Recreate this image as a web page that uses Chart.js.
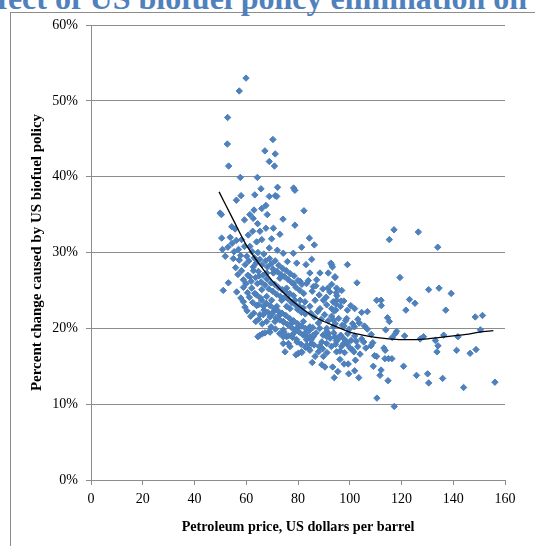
<!DOCTYPE html>
<html>
<head>
<meta charset="utf-8">
<script src="https://cdn.jsdelivr.net/npm/chart.js@4.4.0/dist/chart.umd.min.js"></script>
<style>
  html, body { margin: 0; padding: 0; background: #fff; overflow: hidden; }
  #wrap { position: relative; width: 535px; height: 546px; overflow: hidden; }
  #moldura { position: absolute; left: 10px; top: 12px; width: 560px; height: 560px; border: 1px solid #8c8c8c; box-sizing: border-box; }
  #titulo { position: absolute; right: 8px; top: -18px; font: bold 32px "Liberation Serif", "Times New Roman", serif; color: #4F81BD; white-space: nowrap; line-height: 32px; }
  #grafico { position: absolute; left: 0; top: 0; }
</style>
</head>
<body>
<div id="wrap">
  <div id="moldura"></div>
  <div id="titulo">Effect of US biofuel policy elimination on</div>
  <canvas id="grafico" width="535" height="546"></canvas>
</div>
<script>
// pontos [preço do petróleo, % de mudança]
const pontosAltos = [
  [59.9,53.0],[57.3,51.3],[52.8,47.8],[52.7,44.3],[53.2,41.4],[70.3,44.9],[67.2,43.4],[71.2,43.0],
  [68.9,42.0],[70.9,41.4],[57.7,39.9],[64.3,39.9],[65.7,38.4],[72.1,38.6],[78.3,38.5],[78.8,38.2],
  [58.0,37.5],[56.2,36.9],[63.3,37.6],[68.9,37.4],[71.2,37.5],[71.8,37.4],[74.2,34.4],[62.7,34.5],
  [66.0,35.8],[67.6,36.2],[68.1,35.0],[63.0,35.6],[61.4,35.0],[59.3,34.3],[64.4,33.8],[49.9,35.2],
  [50.4,35.0],[54.4,33.4],[55.7,33.1],[82.3,35.5],[78.8,33.6]
];

const pontosNucleo = [
  [67.6,33.2],[70.5,33.2],[73.0,32.4],[69.8,31.8],[62.5,32.8],[65.3,32.8],[60.8,32.3],[66.0,31.7],
  [64.0,31.4],[58.2,31.7],[59.3,30.8],[61.4,30.8],[50.5,31.9],[50.8,30.4],[68.9,30.6],[72.0,30.3],
  [74.3,29.9],[75.9,28.8],[78.2,29.9],[79.5,28.6],[81.4,30.7],[84.4,31.9],[86.3,31.0],[83.1,28.4],
  [85.3,29.1],[93.0,28.4],[91.7,27.3],[88.5,27.3],[84.6,27.3],[87.2,26.4],[94.3,26.8],[94.9,25.3],
  [94.9,23.7],[94.6,22.4],[93.7,21.1],[91.5,25.3],[89.8,23.7],[85.9,25.5],[83.3,25.9],[80.8,26.2],
  [78.2,25.9],[75.6,25.3],[73.0,26.6],[70.5,27.3],[67.9,27.3],[64.7,27.5],[62.7,28.1],[61.4,26.8],
  [57.3,29.0],[58.2,27.6],[53.1,26.0],[51.1,25.0],[56.3,24.8],[58.9,25.4],[62.1,25.3],[64.0,24.4],
  [66.0,25.1],[67.9,24.2],[66.0,23.7],[64.7,23.1],[66.6,22.9],[69.8,23.7],[71.8,22.9],[73.7,23.7],
  [75.6,22.9],[73.0,21.8],[76.9,22.6],[78.8,23.7],[80.8,23.7],[82.7,23.5],[84.6,22.9],[86.6,23.7],
  [88.5,22.6],[91.1,23.1],[93.0,22.6],[58.9,23.5],[59.5,22.8],[65.3,21.8],[66.6,21.8],[69.2,21.5],
  [70.5,22.2],[74.3,19.8],[75.6,18.9],[74.3,18.0],[76.9,17.6],[79.5,18.5],[83.3,18.5],[82.7,19.3],
  [78.2,19.3],[80.1,16.7],[81.4,16.9],[84.0,17.4],[85.9,18.9],[88.5,17.6],[91.1,18.0],[91.7,19.3],
  [94.3,18.9],[94.9,16.9],[89.8,16.3],[86.6,16.3],[85.3,18.0],[65.3,19.1],[66.3,19.3],[68.9,19.6],
  [71.1,20.9],[74.3,20.9],[77.6,20.7],[80.1,20.2],[82.1,20.9],[84.6,20.2],[87.9,20.7],[91.1,20.0],
  [93.7,20.2],[64.5,18.9],[67.2,19.4],[69.2,19.5]
];

const pontosDensos = [
  [60.2,29.5],[61.0,28.9],[62.3,30.1],[63.1,29.3],[63.8,28.6],[64.5,30.0],[65.2,29.1],[66.1,28.4],
  [66.8,29.8],[67.5,28.9],[68.2,28.1],[69.0,29.2],[69.7,28.5],[70.4,27.8],[71.2,28.9],[71.9,27.5],
  [72.6,28.3],[73.4,27.1],[74.1,27.9],[74.8,26.8],[75.5,27.6],[76.3,26.4],[77.0,27.2],[77.7,26.0],
  [78.5,26.9],[79.2,25.4],[80.0,26.3],[80.7,25.0],[81.5,25.8],[82.2,24.6],[60.6,27.0],[61.9,26.2],
  [62.8,27.6],[63.6,26.7],[64.3,25.9],[65.0,26.9],[65.8,26.1],[66.5,27.0],[67.2,25.7],[68.0,26.5],
  [68.7,25.2],[69.5,26.0],[70.2,24.9],[71.0,25.8],[71.7,24.5],[72.4,25.4],[73.2,24.2],[73.9,25.1],
  [74.6,24.0],[75.3,24.8],[76.1,23.9],[76.8,24.6],[77.5,23.4],[78.3,24.3],[79.0,23.1],[79.8,22.5],
  [80.5,22.9],[81.3,22.1],[82.0,22.7],[82.8,21.9],[61.2,24.1],[62.5,23.4],[63.3,24.6],[64.0,23.0],
  [65.5,24.0],[66.9,22.4],[67.7,23.3],[68.4,22.1],[69.2,23.0],[70.0,21.9],[70.8,22.6],[71.5,21.4],
  [72.3,22.3],[73.0,21.1],[73.8,22.0],[74.5,20.8],[75.3,21.7],[76.0,20.5],[76.8,21.3],[77.5,20.1],
  [78.3,21.0],[79.0,19.8],[79.8,20.6],[80.5,19.5],[81.3,20.3],[82.0,19.1],[82.8,20.0],[83.6,18.8],
  [84.3,19.7],[85.1,18.5],[64.8,21.2],[66.2,20.6],[67.9,20.9],[69.6,20.2],[71.3,19.9],[72.9,19.3],
  [74.6,19.5],[76.3,19.0],[77.9,18.8],[79.6,18.2],[81.2,17.9],[82.9,17.5],[84.6,17.1],[86.2,17.8],
  [87.9,16.9],[89.5,17.3],[91.2,16.8],[92.9,17.6],[94.5,17.9],[96.2,17.0],[84.0,26.3],[85.5,24.9],
  [86.9,25.6],[88.2,24.4],[89.6,25.2],[90.9,24.1],[92.3,24.8],[93.6,23.5],[95.0,24.3],[96.4,22.9],
  [97.7,23.6],[99.1,22.4],[100.4,23.0],[84.9,22.0],[86.3,21.5],[87.6,22.2],[89.0,21.2],[90.3,21.8],
  [91.7,21.0],[93.0,21.6],[94.4,20.6],[95.7,21.3],[97.1,20.4],[98.4,21.0],[99.8,19.9],[101.1,20.6],
  [85.7,20.1],[87.0,19.4],[88.4,20.0],[89.7,19.1],[91.1,19.6],[92.4,18.7],[93.8,19.4],[95.1,18.4],
  [96.5,19.1],[97.8,18.6],[99.2,19.3],[100.5,18.4],[101.9,19.0],[96.8,17.6],[98.0,16.8],[99.0,17.9],
  [100.9,17.2],[102.5,18.3],[54.5,31.2],[55.3,30.1],[56.2,31.6],[57.0,30.4],[57.8,29.6],[55.9,28.0],
  [56.8,27.1],[59.6,28.4],[58.9,26.4],[59.9,25.9],[60.5,24.7],[60.3,22.3],[61.7,21.6],[62.9,22.0],
  [63.7,20.9],[57.9,24.0],[55.0,29.2],[53.8,32.0],[52.9,30.7],[51.9,29.5]
];

const pontosBaixos = [
  [74.3,18.9],[77.6,19.0],[76.3,18.0],[75.0,16.9],[79.2,16.5],[81.4,16.8],[82.7,19.3],[84.6,18.9],
  [83.4,17.8],[85.9,19.1],[89.2,18.2],[88.2,17.6],[91.1,18.9],[85.5,15.5],[89.2,15.2],[90.4,14.9]
];

const pontosDireita = [
  [117.1,33.0],[115.3,31.7],[126.5,32.7],[134.0,30.7],[99.1,28.4],[119.4,26.7],[102.8,26.0],[130.5,25.1],
  [134.5,25.3],[139.2,24.6],[110.4,23.7],[112.1,23.7],[112.2,23.0],[123.1,23.8],[125.2,23.3],[121.7,22.4],
  [137.1,22.4],[101.9,22.6],[104.6,22.1],[106.8,22.2],[114.6,21.4],[115.3,20.9],[148.5,21.5],[151.3,21.7],
  [150.5,19.8],[113.9,19.8],[118.1,19.6],[117.6,19.3],[116.4,18.8],[121.2,19.0],[128.5,18.9],[127.2,18.6],
  [136.3,19.1],[141.8,18.9],[133.1,18.4],[134.1,17.7],[133.7,16.9],[141.3,17.1],[146.5,16.7],[148.8,17.2],
  [113.2,17.4],[113.7,17.1],[115.0,16.0],[116.3,16.0],[120.8,15.0],[125.8,13.8],[130.1,14.0],[130.5,12.8],
  [135.9,13.4],[144.0,12.2],[156.1,12.9],[110.5,10.8],[117.2,9.7],[114.8,13.1],[111.7,13.8],[112.1,14.5],
  [109.1,15.0],[110.4,16.3],[113.6,16.0],[109.6,16.4],[108.2,17.7],[108.9,18.1],[108.3,19.2],[106.8,19.9],
  [105.7,20.3],[103.7,20.7],[103.1,21.2],[101.8,20.2],[98.8,21.3],[97.8,20.3],[104.6,18.6],[105.4,18.2],
  [106.2,17.4],[104.0,16.6],[103.1,17.6],[101.6,16.9],[100.1,17.4],[102.2,15.8],[99.4,15.3],[101.9,14.4],
  [103.5,13.5],[99.6,14.0],[95.4,14.3],[94.0,13.5],[97.8,15.3],[96.2,15.9],[93.4,14.9],[94.8,18.4],
  [96.2,18.9],[97.6,18.0],[98.9,18.2],[94.3,26.7],[94.8,24.7],[96.6,23.6],[96.9,25.0],[94.0,22.3],
  [94.6,23.2],[93.0,25.8],[93.3,28.1],[92.7,28.6]
];

// linha de tendência (polinomial do Excel)
const tendenciaX = [49.5, 55, 60, 65, 70, 75, 80, 85, 90, 95, 100, 105, 110, 115, 120, 125, 130, 135, 140, 145, 150, 155.5];
const tendenciaY = [38.0, 34.3, 31.0, 28.5, 26.3, 24.5, 23.0, 21.8, 20.9, 20.2, 19.5, 19.1, 18.8, 18.6, 18.5, 18.5, 18.6, 18.8, 19.0, 19.2, 19.5, 19.7];

const ticksX = [0, 20, 40, 60, 80, 100, 120, 140, 160];
const ticksY = [0, 10, 20, 30, 40, 50, 60];

const todosPontos = pontosAltos.concat(pontosNucleo, pontosDensos, pontosBaixos, pontosDireita)
  .map(p => ({ x: p[0], y: p[1] }));
const linhaTendencia = tendenciaX.map((x, i) => ({ x: x, y: tendenciaY[i] }));

const fonteSerif = '"Liberation Serif", "Times New Roman", serif';
const corGrade = '#8c8c8c';

const ctx = document.getElementById('grafico').getContext('2d');

new Chart(ctx, {
  type: 'scatter',
  data: {
    datasets: [
      {
        label: 'Tendência',
        type: 'line',
        data: linhaTendencia,
        borderColor: '#000000',
        borderWidth: 1.3,
        pointRadius: 0,
        fill: false,
        cubicInterpolationMode: 'monotone'
      },
      {
        label: 'Mudança',
        data: todosPontos,
        pointStyle: 'rectRot',
        pointRadius: 3.2,
        backgroundColor: '#4F81BD',
        borderColor: '#4A7EBB',
        borderWidth: 1
      }
    ]
  },
  options: {
    responsive: false,
    animation: false,
    layout: { padding: { left: 0, right: 30, top: 25, bottom: 0 } },
    plugins: {
      legend: { display: false },
      tooltip: { enabled: false }
    },
    scales: {
      x: {
        type: 'linear',
        min: 0,
        max: 160,
        afterBuildTicks: (eixo) => { eixo.ticks = ticksX.map(v => ({ value: v })); },
        afterFit: (eixo) => { eixo.height = 66; },
        grid: { drawOnChartArea: false, color: corGrade, tickLength: 5 },
        border: { color: corGrade },
        ticks: { color: '#000', padding: 6, maxRotation: 0, font: { family: fonteSerif, size: 14 } },
        title: {
          display: true,
          text: 'Petroleum price, US dollars per barrel',
          color: '#000',
          padding: { top: 0, bottom: 10 },
          font: { family: fonteSerif, size: 14.2, weight: 'bold' }
        }
      },
      y: {
        min: 0,
        max: 60,
        afterBuildTicks: (eixo) => { eixo.ticks = ticksY.map(v => ({ value: v })); },
        afterFit: (eixo) => { eixo.width = 91; },
        grid: { color: corGrade, tickLength: 5 },
        border: { color: corGrade },
        ticks: {
          color: '#000',
          padding: 8,
          font: { family: fonteSerif, size: 14 },
          callback: (v) => v + '%'
        },
        title: {
          display: true,
          text: 'Percent change caused by US biofuel policy',
          color: '#000',
          padding: { top: 28, bottom: 0 },
          font: { family: fonteSerif, size: 15, weight: 'bold' }
        }
      }
    }
  }
});
</script>
</body>
</html>
